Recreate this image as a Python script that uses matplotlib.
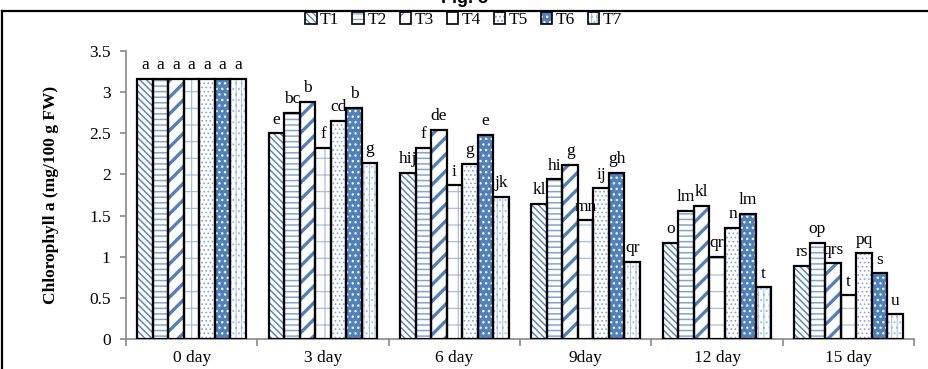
import matplotlib
matplotlib.use('Agg')
import matplotlib.pyplot as plt
import numpy as np
from matplotlib.patches import Patch
from matplotlib.lines import Line2D
from matplotlib.legend_handler import HandlerTuple

plt.rcParams['font.family'] = ['Liberation Serif', 'DejaVu Serif']
plt.rcParams['hatch.linewidth'] = 0.9

# Chlorophyll a per storage day, one list per treatment
days = ['0 day', '3 day', '6 day', '9day', '12 day', '15 day']
treatments = ['T1', 'T2', 'T3', 'T4', 'T5', 'T6', 'T7']

t1 = [3.16, 2.50, 2.02, 1.64, 1.17, 0.89]
t2 = [3.16, 2.75, 2.32, 1.94, 1.56, 1.17]
t3 = [3.16, 2.88, 2.54, 2.12, 1.62, 0.92]
t4 = [3.16, 2.32, 1.87, 1.44, 1.00, 0.53]
t5 = [3.16, 2.65, 2.13, 1.83, 1.35, 1.04]
t6 = [3.16, 2.81, 2.48, 2.02, 1.52, 0.80]
t7 = [3.16, 2.14, 1.73, 0.94, 0.63, 0.30]

t1_sig = ['a', 'e', 'hij', 'kl', 'o', 'rs']
t2_sig = ['a', 'bc', 'f', 'hi', 'lm', 'op']
t3_sig = ['a', 'b', 'de', 'g', 'kl', 'qrs']
t4_sig = ['a', 'f', 'i', 'mn', 'qr', 't']
t5_sig = ['a', 'cd', 'g', 'ij', 'n', 'pq']
t6_sig = ['a', 'b', 'e', 'gh', 'lm', 's']
t7_sig = ['a', 'g', 'jk', 'qr', 't', 'u']

values = [t1, t2, t3, t4, t5, t6, t7]
letters = [t1_sig, t2_sig, t3_sig, t4_sig, t5_sig, t6_sig, t7_sig]

blue = '#4f81bd'
light = '#7fa4d6'
# (face colour, hatch, hatch colour, hatch line width)
styles = [
    ('white', '\\\\\\\\\\', blue, 1.0),
    ('white', '---', light, 1.1),
    ('white', '//', blue, 2.4),
    ('white', '+', '#9db8e0', 0.8),
    ('white', '....', light, 0.7),
    (blue, '...', 'white', 0.9),
    ('white', '|||...', '#9fbce2', 0.7),
]

fig = plt.figure(figsize=(9.29, 3.69), dpi=100)
ax = fig.add_axes([0.1356, 0.0813, 0.984 - 0.1356, 0.862 - 0.0813])

x = np.arange(len(days))
w = 0.118
handles = []
for j in range(len(treatments)):
    fc, hatch, hc, hlw = styles[j]
    pos = x + (j - 3) * w
    fill = ax.bar(pos, values[j], w, color=fc, hatch=hatch, edgecolor=hc,
                  linewidth=0, zorder=2)
    for b in fill:
        if hasattr(b, 'set_hatch_linewidth'):
            b.set_hatch_linewidth(hlw)
    ax.bar(pos, values[j], w, fill=False, edgecolor='black', linewidth=1.6,
           zorder=3)
    for xi, v, s in zip(pos, values[j], letters[j]):
        ax.annotate(s, (xi, v), xytext=(0, 4), textcoords='offset points',
                    ha='center', va='bottom', fontsize=12.5)
    hp = Patch(facecolor=fc, hatch=hatch, edgecolor=hc, linewidth=0)
    if hasattr(hp, 'set_hatch_linewidth'):
        hp.set_hatch_linewidth(min(hlw, 1.4))
    op = Patch(facecolor='none', edgecolor='black', linewidth=1.2)
    handles.append((hp, op))

ax.set_xlim(-0.5, 5.5)
ax.set_ylim(0, 3.5)
ax.set_yticks(np.arange(0, 3.51, 0.5))
ax.set_yticklabels(['0', '0.5', '1', '1.5', '2', '2.5', '3', '3.5'])
ax.set_xticks(x)
ax.set_xticklabels(days)
ax.set_xticks(np.arange(-0.5, 5.6, 1), minor=True)
ax.tick_params(axis='x', which='major', length=0, pad=8, labelsize=12.5)
ax.tick_params(axis='x', which='minor', length=5, color='#898989', width=1.2)
ax.tick_params(axis='y', length=4, color='#898989', width=1.2,
               labelsize=12.5, pad=7)
for side in ['top', 'right']:
    ax.spines[side].set_visible(False)
for side in ['left', 'bottom']:
    ax.spines[side].set_color('#898989')
    ax.spines[side].set_linewidth(1.2)

ax.set_ylabel('Chlorophyll a (mg/100 g FW)', fontsize=12.5, fontweight='bold',
              labelpad=22)

fig.legend(handles, treatments, handler_map={tuple: HandlerTuple(ndivide=1)},
           loc='center', bbox_to_anchor=(0.499, 0.945), ncol=7, frameon=False,
           fontsize=12.5, handlelength=0.65, handleheight=0.65,
           handletextpad=0.2, columnspacing=0.75)

# outer frame and caption
fig.add_artist(Line2D([2 / 929, 1], [1 - 11 / 369, 1 - 11 / 369],
                      transform=fig.transFigure, color='black', lw=1.6))
fig.add_artist(Line2D([2 / 929, 2 / 929], [0, 1 - 11 / 369],
                      transform=fig.transFigure, color='black', lw=1.6))
fig.text(0.5, 1.004, 'Fig. 3', ha='center', va='center', fontsize=13,
         fontweight='bold', family=['Liberation Sans', 'DejaVu Sans'])

fig.savefig('out.png', dpi=100)
